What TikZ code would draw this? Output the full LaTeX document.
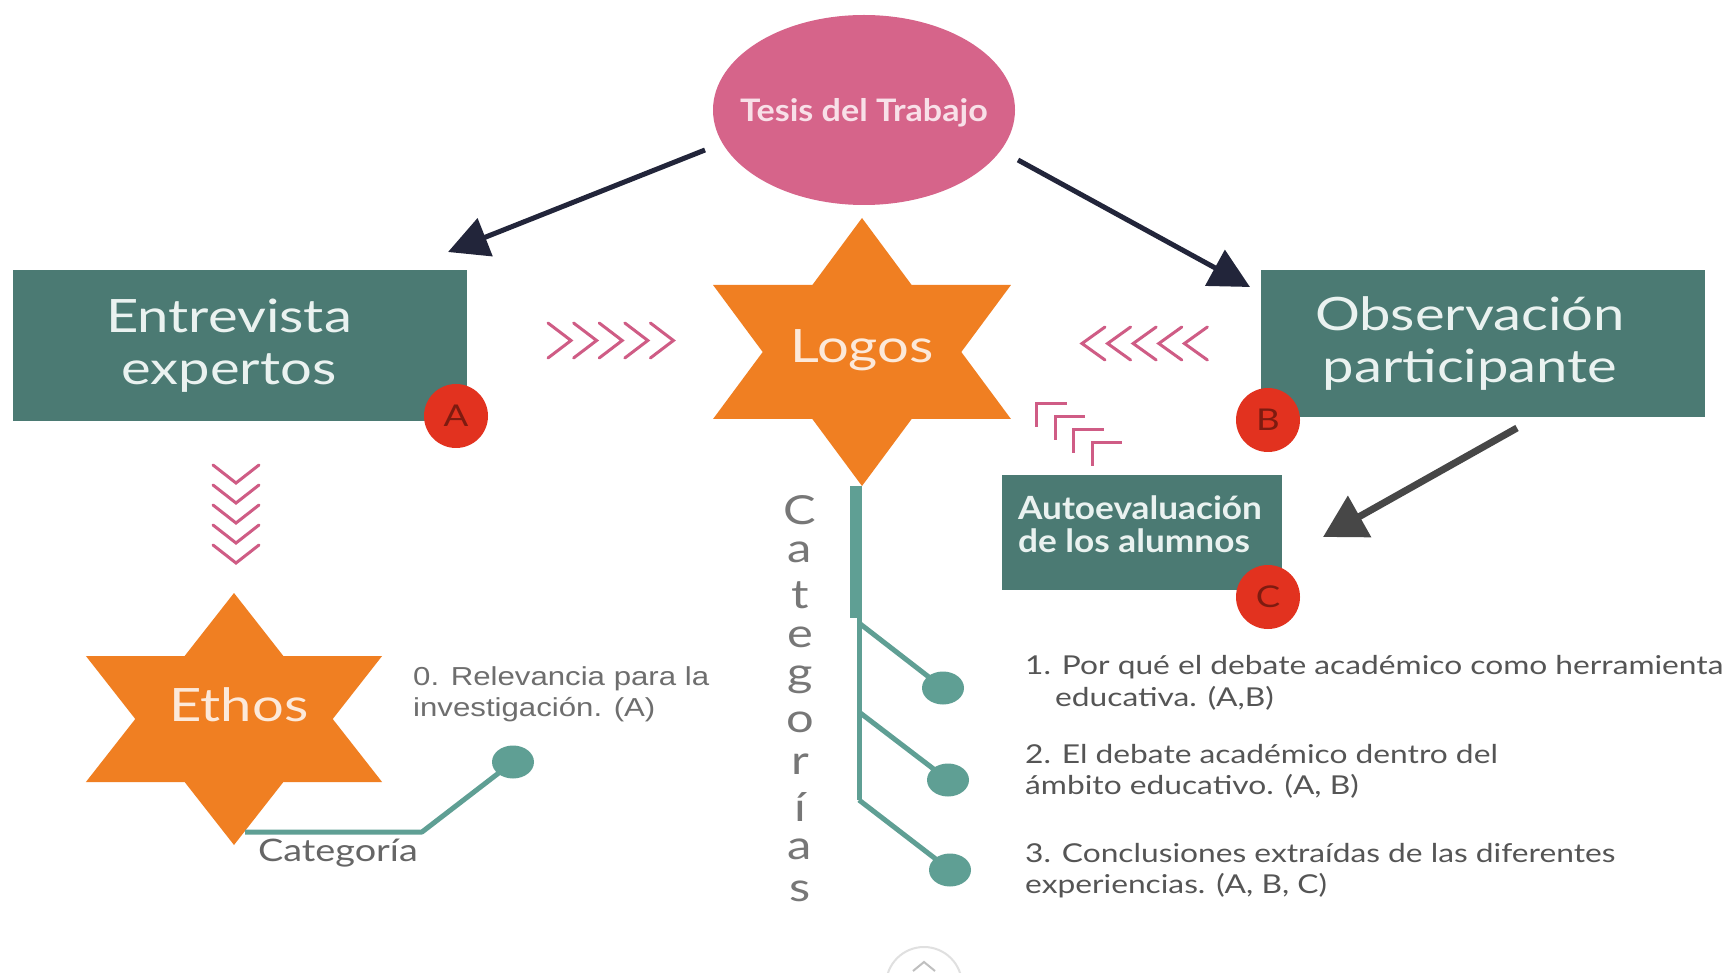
\documentclass[tikz,border=0pt]{standalone}
\usepackage{fontspec}
\setmainfont{Lato}[FakeStretch=1.22]
\newfontfamily\boldstretch{Lato}[FakeStretch=1.1]
\newfontfamily\arialf{Liberation Sans}[FakeStretch=1.2]
\usetikzlibrary{arrows.meta,shapes.geometric,calc}
\definecolor{boxteal}{HTML}{4B7A73}
\definecolor{treeteal}{HTML}{5F9F94}
\definecolor{starorange}{HTML}{F07F22}
\definecolor{tesispink}{HTML}{D6648A}
\definecolor{badgered}{HTML}{E2321F}
\definecolor{badgetext}{HTML}{7E1B10}
\definecolor{chevpink}{HTML}{CF5C85}
\definecolor{arrowdark}{HTML}{22253A}
\definecolor{arrowgray}{HTML}{474747}
\definecolor{boxtext}{HTML}{EAF2F0}
\definecolor{startext}{HTML}{FCE9DA}
\definecolor{tesistext}{HTML}{F8E0E8}
\definecolor{graytext}{HTML}{555555}
\newcommand{\hexpath}{(0,1)--(0.2887,0.5)--(0.866,0.5)--(0.5774,0)--(0.866,-0.5)--(0.2887,-0.5)--(0,-1)--(-0.2887,-0.5)--(-0.866,-0.5)--(-0.5774,0)--(-0.866,0.5)--(-0.2887,0.5)--cycle}
\begin{document}
\begin{tikzpicture}[x=1pt,y=-1pt,
  tealbox/.style={rectangle, fill=boxteal, inner sep=0pt},
  boxlabel/.style={text=boxtext, inner sep=0pt, align=center, font=\fontsize{46}{52}\selectfont},
  badge/.style={circle, fill=badgered, text=badgetext, minimum size=64pt, inner sep=0pt, font=\fontsize{30}{30}\selectfont},
  darkarrow/.style={draw=arrowdark, line width=5pt, -{Triangle[length=40pt,width=40pt]}},
  grayarrow/.style={draw=arrowgray, line width=7pt, -{Triangle[length=42pt,width=46pt]}},
  chev/.style={draw=chevpink, line width=3pt, line cap=round, line join=miter},
  treeline/.style={draw=treeteal, line width=5pt},
  dot/.style={ellipse, fill=treeteal, minimum width=42pt, minimum height=33pt, inner sep=0pt},
  listtext/.style={anchor=west, text=graytext, align=left, font=\fontsize{26}{31}\selectfont, inner sep=0pt},
  catl/.style={text=graytext!80, font=\fontsize{40}{40}\selectfont, inner sep=0pt}
]
\useasboundingbox (0,0) rectangle (1733,973);
\fill[white] (0,0) rectangle (1733,973);

% Tesis
\node[ellipse, fill=tesispink, minimum width=302pt, minimum height=190pt, inner sep=0pt] (tesis) at (864,110) {};
\node[text=tesistext, font=\boldstretch\bfseries\fontsize{31}{31}\selectfont, inner sep=0pt] (tesistxt) at (864,113) {Tesis del Trabajo};

% Boxes
\node[tealbox, minimum width=454pt, minimum height=151pt] (entrevista) at (240,345.5) {};
\node[boxlabel] (entrevistatxt) at (229,345.5) {Entrevista\\expertos};
\node[tealbox, minimum width=444pt, minimum height=147pt] (observacion) at (1483,343.5) {};
\node[boxlabel] (observaciontxt) at (1470,343.5) {Observación\\participante};
\node[tealbox, minimum width=280pt, minimum height=115pt] (auto) at (1142,532.5) {};
\node[boxlabel, align=left, font=\boldstretch\bfseries\fontsize{32}{33}\selectfont] (autotxt) at (1140,524) {Autoevaluación\\de los alumnos};

% Badges
\node[badge] (badgeA) at (456,416) {A};
\node[badge] (badgeB) at (1268,420) {B};
\node[badge] (badgeC) at (1268,597) {C};

% Stars
\begin{scope}[shift={(862,352)},xscale=172,yscale=134]
\fill[starorange] \hexpath;
\end{scope}
\node[text=startext, font=\fontsize{46}{46}\selectfont, inner sep=0pt] (logos) at (862,350) {Logos};
\begin{scope}[shift={(234,719)},xscale=171,yscale=126]
\fill[starorange] \hexpath;
\end{scope}
\node[text=startext, font=\fontsize{46}{46}\selectfont, inner sep=0pt] (ethos) at (239,705) {Ethos};

% Arrows
\coordinate (a1s) at (705,150);
\coordinate (a1e) at (448,252);
\coordinate (a2s) at (1018,160);
\coordinate (a2e) at (1250,287);
\coordinate (a3s) at (1517,428);
\coordinate (a3e) at (1323,537);
\draw[darkarrow] (a1s) -- (a1e);
\draw[darkarrow] (a2s) -- (a2e);
\draw[grayarrow] (a3s) -- (a3e);

% Chevrons
\foreach \i in {0,...,4} {
  \draw[chev] ({548+25.6*\i},323) -- ({571+25.6*\i},340.5) -- ({548+25.6*\i},358);
  \draw[chev] ({1105+25.6*\i},327) -- ({1082+25.6*\i},343.5) -- ({1105+25.6*\i},360);
  \draw[chev] (213,{465+20*\i}) -- (236,{483+20*\i}) -- (259,{465+20*\i});
}
\foreach \i in {0,...,3} {
  \draw[chev, line cap=butt] ({1036.5+18.5*\i},{427+13*\i}) -- ({1036.5+18.5*\i},{404+13*\i}) -- ({1066.5+18.5*\i},{404+13*\i});
}

% Logos tree
\coordinate (trunktop) at (856,486);
\coordinate (trunkmid) at (856,618);
\draw[draw=treeteal, line width=12pt] (trunktop) -- (trunkmid);
\coordinate (b1) at (859,623);
\coordinate (b2) at (859,712);
\coordinate (b3) at (859,800);
\draw[treeline] (859,612) -- (b3);
\node[dot] (dot1) at (943,688) {};
\node[dot] (dot2) at (948,780) {};
\node[dot] (dot3) at (950,870) {};
\draw[treeline] (b1) -- (dot1.center);
\draw[treeline] (b2) -- (dot2.center);
\draw[treeline] (b3) -- (dot3.center);

% Ethos tree
\node[dot] (dot0) at (513,762) {};
\coordinate (e1) at (245,832);
\coordinate (e2) at (422,832);
\draw[treeline, line join=round] (e1) -- (e2) -- (dot0.center);
\node[text=graytext!90, font=\fontsize{31}{31}\selectfont, inner sep=0pt] (categoria) at (338,853) {Categoría};

% Texts
\node[listtext, font=\arialf\fontsize{26}{31}\selectfont, text=graytext!85] (rel) at (413,694) {0. Relevancia para la\\investigación. (A)};
\node[listtext] (item1) at (1025,667) {1. Por qué el debate académico como herramienta};
\node[listtext] (item1b) at (1055,698) {educativa. (A,B)};
\node[listtext] (item2) at (1025,771) {2. El debate académico dentro del\\ámbito educativo. (A, B)};
\node[listtext] (item3) at (1025,871) {3. Conclusiones extraídas de las diferentes\\experiencias. (A, B, C)};

% Categorías vertical
\foreach \l [count=\i from 0] in {C,a,t,e,g,o,r,í,a,s} {
  \node[catl] (cat\i) at (800,{510+42.4*\i}) {\l};
}

% bottom widget
\node[circle, draw=black!12, line width=2pt, minimum size=76pt] (navbtn) at (924,985) {};
\draw[draw=black!25, line width=2pt] (913,971) -- (924,962) -- (935,971);
\end{tikzpicture}
\end{document}
